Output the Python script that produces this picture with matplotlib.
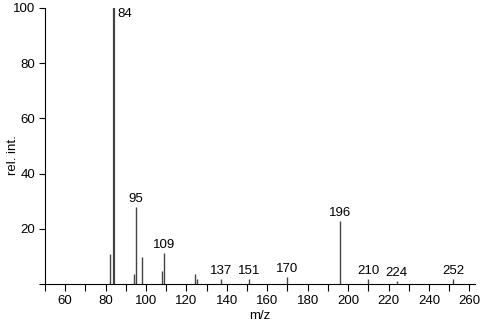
import numpy as np
import matplotlib
matplotlib.use("Agg")
import matplotlib.pyplot as plt

plt.rcParams["font.family"] = ["Liberation Sans", "DejaVu Sans"]

# peak list
mz = [82, 84, 94, 95, 98, 108, 109, 124, 125, 137, 151, 170, 196, 210, 224, 252]
intensity = [11, 100, 3.6, 27.8, 9.9, 4.6, 11.1, 3.5, 1.8, 1.9, 1.7, 2.5, 22.8, 1.7, 1.1, 1.8]
labeled = [84, 95, 109, 137, 151, 170, 196, 210, 224, 252]

FS = 9.5

fig = plt.figure(figsize=(4.8, 3.24), dpi=100)
ax = fig.add_axes([45 / 480, 1 - 284 / 324, 430 / 480, 276 / 324])

for m, h in zip(mz, intensity):
    lw = 1.6 if m == 84 else 1.0
    ax.vlines(m, 0, h, color="#444444", linewidth=lw)

for m, h in zip(mz, intensity):
    if m not in labeled:
        continue
    if m == 84:
        ax.annotate(str(m), (m, h), xytext=(3, 0), textcoords="offset points",
                    ha="left", va="top", fontsize=FS)
    else:
        ax.annotate(str(m), (m, h), xytext=(0, 1.5), textcoords="offset points",
                    ha="center", va="bottom", fontsize=FS)

ax.set_xlim(50, 262.8)
ax.set_ylim(0, 100)
ax.set_xticks(np.arange(60, 261, 20))
ax.set_xticks(np.arange(50, 261, 20), minor=True)
ax.set_yticks(np.arange(20, 101, 20))
ax.set_yticks(np.arange(0, 100, 20), minor=True)

for side in ["top", "right"]:
    ax.spines[side].set_visible(False)
for side in ["left", "bottom"]:
    ax.spines[side].set_linewidth(0.8)

ax.tick_params(axis="x", which="both", direction="out", length=5, width=0.8, pad=3, labelsize=FS)
ax.tick_params(axis="y", which="both", direction="out", length=4, width=0.8, pad=3, labelsize=FS)

ax.set_xlabel("m/z", fontsize=FS, labelpad=2)
fig.text(13 / 480, 1 - 155 / 324, "rel. int.", rotation=90, ha="center", va="center", fontsize=FS)

fig.savefig("out.png", dpi=100)
plt.close(fig)
